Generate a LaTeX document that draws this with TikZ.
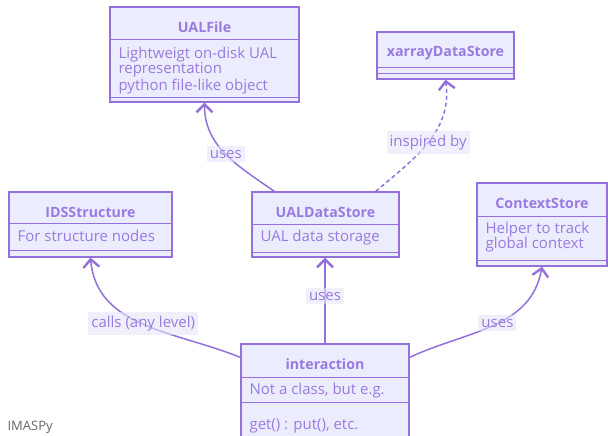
\documentclass[tikz,border=0pt]{standalone}
\usepackage{fontspec}
\setmainfont{Open Sans}
\usetikzlibrary{arrows.meta}
\definecolor{umlline}{HTML}{9370DB}
\definecolor{umlfill}{HTML}{ECECFF}
\definecolor{umltext}{HTML}{9A7AE0}
\definecolor{lblfill}{HTML}{E6E6FA}
\newcommand{\umlfont}{\fontsize{15}{15}\selectfont}

\begin{document}
\begin{tikzpicture}[x=1pt,y=1pt,
    cls/.style={draw=umlline,fill=umlfill,line width=1.3pt,inner sep=0pt},
    sep/.style={draw=umlline,line width=1.3pt},
    ttl/.style={text=umltext,font=\fontsize{14.2}{15}\selectfont\bfseries,inner sep=0pt},
    mem/.style={text=umltext,font=\umlfont,align=left,anchor=north west,inner sep=0pt},
    lbl/.style={fill=lblfill,fill opacity=.6,text opacity=1,text=umltext,font=\umlfont,
      inner xsep=3pt,inner ysep=4pt},
    dep/.style={draw=umlline,line width=1.5pt,-{Straight Barb[length=8pt,width=16pt,line width=2.4pt]}}]
    \useasboundingbox (0,0) rectangle (608,-436);

    % classes
    \node[cls,minimum width=189pt,minimum height=95pt] (ualfile) at (204.5,-54.5) {};
    \draw[sep] ([yshift=-33pt]ualfile.north west) -- ([yshift=-33pt]ualfile.north east);
    \draw[sep] ([yshift=5pt]ualfile.south west) -- ([yshift=5pt]ualfile.south east);
    \node[ttl] (ualfile-t) at ([yshift=-21pt]ualfile.north) {UALFile};
    \node[mem] (ualfile-m) at ([xshift=9pt,yshift=-41pt]ualfile.north west)
      {Lightweigt on-disk UAL\\representation\\python file-like object};

    \node[cls,minimum width=137pt,minimum height=47pt] (xarray) at (445.5,-55.5) {};
    \draw[sep] ([yshift=12pt]xarray.south west) -- ([yshift=12pt]xarray.south east);
    \draw[sep] ([yshift=6pt]xarray.south west) -- ([yshift=6pt]xarray.south east);
    \node[ttl] (xarray-t) at ([yshift=-22pt]xarray.north) {xarrayDataStore};

    \node[cls,minimum width=163pt,minimum height=65pt] (ids) at (90.5,-224.5) {};
    \draw[sep] ([yshift=-32pt]ids.north west) -- ([yshift=-32pt]ids.north east);
    \draw[sep] ([yshift=7pt]ids.south west) -- ([yshift=7pt]ids.south east);
    \node[ttl] (ids-t) at ([yshift=-21pt]ids.north) {IDSStructure};
    \node[mem] (ids-m) at ([xshift=9pt,yshift=-39pt]ids.north west) {For structure nodes};

    \node[cls,minimum width=147pt,minimum height=65pt] (ualds) at (325.5,-224.5) {};
    \draw[sep] ([yshift=-33pt]ualds.north west) -- ([yshift=-33pt]ualds.north east);
    \draw[sep] ([yshift=5pt]ualds.south west) -- ([yshift=5pt]ualds.south east);
    \node[ttl] (ualds-t) at ([yshift=-21pt]ualds.north) {UALDataStore};
    \node[mem] (ualds-m) at ([xshift=9pt,yshift=-39pt]ualds.north west) {UAL data storage};

    \node[cls,minimum width=130pt,minimum height=83pt] (ctx) at (542,-224.5) {};
    \draw[sep] ([yshift=-34pt]ctx.north west) -- ([yshift=-34pt]ctx.north east);
    \draw[sep] ([yshift=6pt]ctx.south west) -- ([yshift=6pt]ctx.south east);
    \node[ttl] (ctx-t) at ([yshift=-21pt]ctx.north) {ContextStore};
    \node[mem] (ctx-m) at ([xshift=9pt,yshift=-40pt]ctx.north west)
      {Helper to track\\global context};

    \node[cls,minimum width=168pt,minimum height=96pt] (inter) at (325,-392) {};
    \draw[sep] ([yshift=-34pt]inter.north west) -- ([yshift=-34pt]inter.north east);
    \draw[sep] ([yshift=-59pt]inter.north west) -- ([yshift=-59pt]inter.north east);
    \node[ttl] (inter-t) at ([yshift=-21pt]inter.north) {interaction};
    \node[mem] (inter-m) at ([xshift=9pt,yshift=-40pt]inter.north west) {Not a class, but e.g.};
    \node[mem] (inter-f) at ([xshift=9pt,yshift=-75pt]inter.north west) {get() : put(), etc.};

    % relations
    \draw[dep] ([yshift=-14pt]inter.north west) to[out=158,in=-85]
      node[lbl,pos=.5] {calls (any level)} (ids.south);
    \draw[dep] (inter.north) -- node[lbl,pos=.55] {uses} (inter.north |- ualds.south);
    \draw[dep] ([yshift=-14pt]inter.north east) to[out=25,in=-100]
      node[lbl,pos=.53] {uses} (ctx.south);
    \draw[dep] ([xshift=23pt]ualds.north west) to[out=145,in=-90]
      node[lbl,pos=.5] {uses} (ualfile.south);
    \draw[dep,dash pattern=on 4pt off 3pt] ([xshift=-24pt]ualds.north east) to[out=40,in=-82]
      node[lbl,pos=.5] {inspired by} (xarray.south);

    \node[anchor=west,text=black!60,font=\fontsize{13}{14}\selectfont] (title) at (4,-427) {IMASPy};
\end{tikzpicture}
\end{document}
